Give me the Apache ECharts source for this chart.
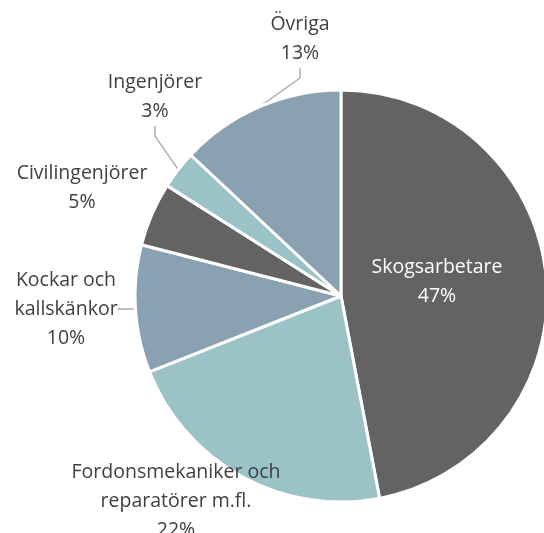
<!DOCTYPE html>
<html>
<head>
<meta charset="utf-8">
<script src="https://cdn.jsdelivr.net/npm/echarts@6/dist/echarts.min.js"></script>
<style>
  html, body { margin: 0; padding: 0; background: #fff; }
  #chart { width: 544px; height: 533px; }
</style>
</head>
<body>
<div id="chart"></div>
<script>
// yrken och andel
var categories = ['Skogsarbetare', 'Fordonsmekaniker och\nreparatörer m.fl.', 'Kockar och\nkallskänkor', 'Civilingenjörer', 'Ingenjörer', 'Övriga']
var values = [47, 22, 10, 5, 3, 13]
var colors = ['#636363', '#9bc2c7', '#8aa1b2', '#636363', '#9bc2c7', '#8aa1b2']
// where the labels sit (centre of text block)
var labelPos = [[437, 282], [176, 501], [66, 309], [82, 188], [155, 97], [300, 39]]
var showLine = [false, false, true, false, true, true]

var chart = echarts.init(document.getElementById('chart'))
chart.setOption({
  animation: false,
  series: [
    {
      type: 'pie',
      center: [341, 296],
      radius: 206,
      startAngle: 90,
      clockwise: true,
      avoidLabelOverlap: false,
      itemStyle: {
        borderColor: '#fff',
        borderWidth: 3
      },
      label: {
        show: true,
        position: 'outside',
        formatter: '{b}\n{d}%',
        color: '#404040',
        fontFamily: 'Open Sans',
        fontSize: 19.5,
        lineHeight: 29,
        align: 'center'
      },
      labelLine: {
        show: true,
        length: 10,
        length2: 10,
        lineStyle: { color: '#a6a6a6', width: 1.3 }
      },
      labelLayout: function (params) {
        var p = labelPos[params.dataIndex]
        if (!p) return {}
        return { x: p[0], y: p[1], align: 'center', verticalAlign: 'middle' }
      },
      data: categories.map(function (name, i) {
        var d = {
          name: name,
          value: values[i],
          itemStyle: { color: colors[i] },
          labelLine: { show: showLine[i] }
        }
        if (i === 0) {
          d.label = { position: 'inside', color: '#fff' }
        }
        return d
      })
    }
  ]
})
</script>
</body>
</html>
